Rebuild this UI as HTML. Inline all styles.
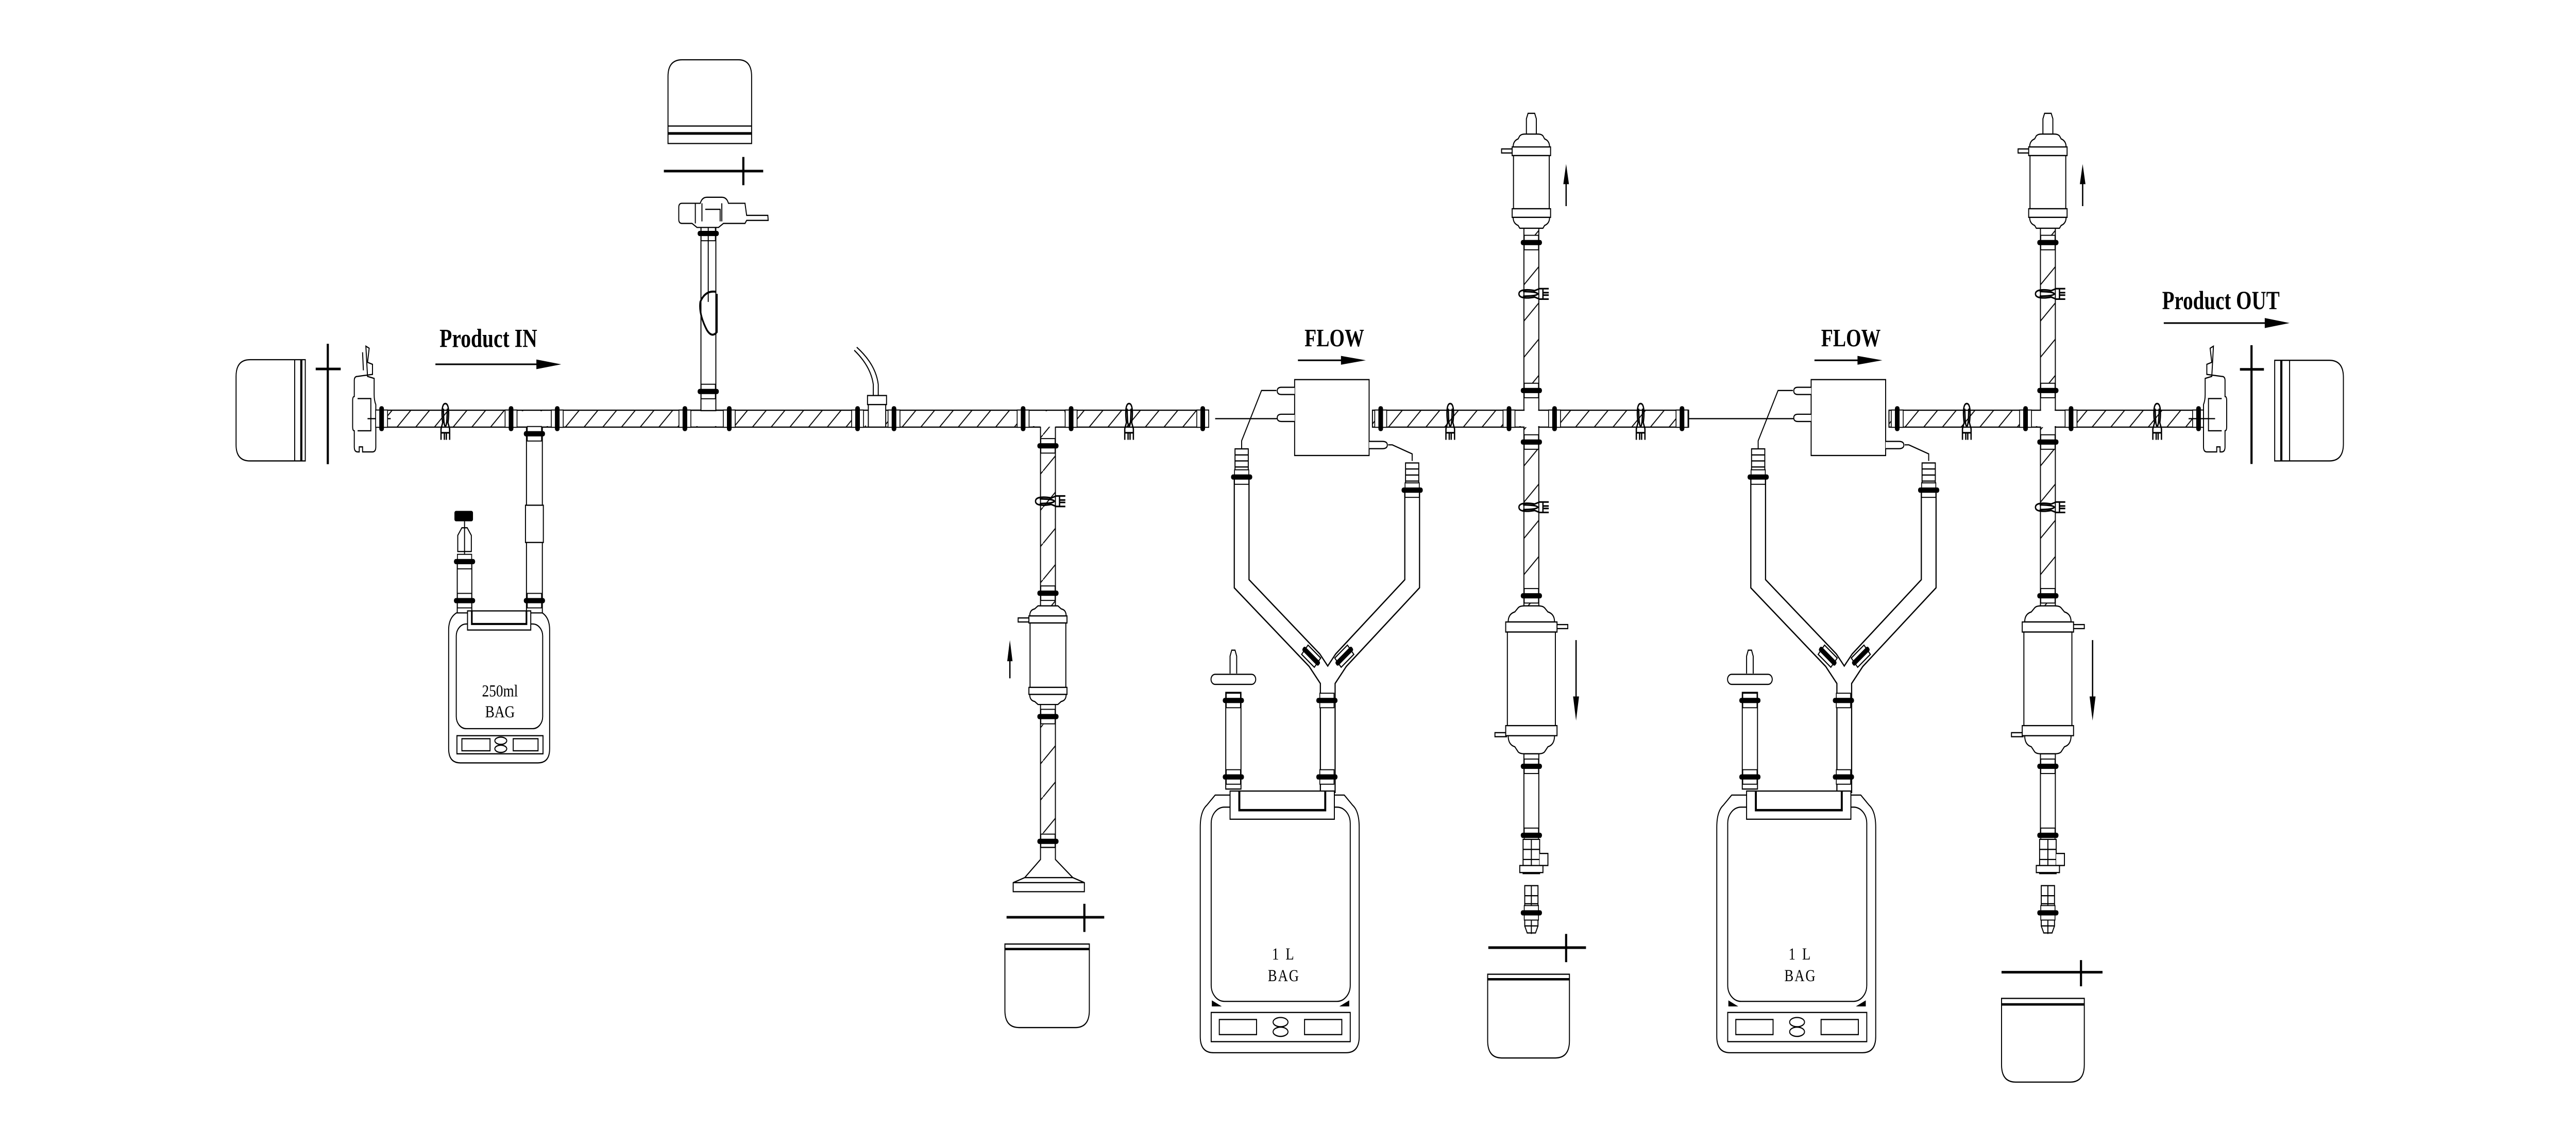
<!DOCTYPE html>
<html><head><meta charset="utf-8"><style>
html,body{margin:0;padding:0;background:#fff;width:6078px;height:2220px;overflow:hidden}
svg{display:block;position:fixed;left:0;top:0;width:100vw;height:100vh}
.s{fill:none;stroke:#000;stroke-width:.6}
.w{fill:#fff;stroke:#000;stroke-width:.6}
.t{font-family:"Liberation Serif",serif;fill:#000}
</style></head><body>
<svg viewBox="0 0 1556 568.35" preserveAspectRatio="none" xmlns="http://www.w3.org/2000/svg">
<defs>
<pattern id="hh" width="11.3" height="11.3" patternUnits="userSpaceOnUse"><path d="M-1,12.3 L12.3,-1" stroke="#000" stroke-width=".55"/></pattern>
<pattern id="hv" width="18" height="18" patternUnits="userSpaceOnUse"><path d="M-1,19 L19,-1" stroke="#000" stroke-width=".55"/></pattern>
<g id="bv"><rect x="-3.6" y="-4.3" width="7.2" height="8.6" fill="#fff" stroke="#000" stroke-width=".5"/><rect x="-1.4" y="-6.2" width="2.8" height="12.4" rx="1.2" fill="#000"/></g>
<g id="bh"><rect x="-4.3" y="-3.6" width="8.6" height="7.2" fill="#fff" stroke="#000" stroke-width=".5"/><rect x="-6.4" y="-1.3" width="12.8" height="2.6" rx="1.2" fill="#000"/></g>
<g id="pc" fill="none" stroke="#000" stroke-width=".8"><path d="M0,-7.5 C-2.4,-7.5 -2.2,-2 -1.6,2 L-2.6,5 V10.5 M0,-7.5 C2.4,-7.5 2.2,-2 1.6,2 L2.6,5 V10.5 M-1.2,-5 C-1,0 -1,3 0,4 C1,3 1,0 1.2,-5 M-2.6,7 H2.6 M-0.6,7 V10.5 M0.6,7 V10.5"/></g>
<g id="ph"><use href="#pc" transform="rotate(-90)"/></g>
<g id="sec">
 <rect x="782" y="188.6" width="45" height="37.7" class="w"/>
 <path d="M782,192.4 H774 Q771.5,192.4 771.5,194.2 Q771.5,196 774,196 H782 M782,205.8 H774 Q771.5,205.8 771.5,207.6 Q771.5,209.4 774,209.4 H782 M827,219.3 H835 Q838,219.3 838,221.1 Q838,222.9 835,222.9 H827" class="w"/>
 <path d="M771,194 H762 L750,219 V223 M838.5,221 H841 L853,225.5 V229" class="s"/>
 <rect x="829" y="203.8" width="191" height="8.4" fill="url(#hh)" stroke="#000" stroke-width=".6"/>
 <rect x="913.5" y="204.3" width="23" height="7.4" fill="#fff"/>
 <rect x="920.9" y="202.5" width="8.2" height="11" fill="#fff"/>
 <use href="#bv" x="834" y="208"/><use href="#bv" x="911.5" y="208"/><use href="#bv" x="939" y="208"/><use href="#bv" x="1016" y="208"/>
 <use href="#pc" x="876" y="208"/><use href="#pc" x="991" y="208"/>
 <path d="M750,238 V290 L794,328 L802,338 V394 M853,244 V290 L810,328 L802,338" fill="none" stroke="#000" stroke-width="9.6" stroke-linejoin="miter"/>
 <path d="M750,238 V290 L794,328 L802,338 V394 M853,244 V290 L810,328 L802,338" fill="none" stroke="#fff" stroke-width="8.2" stroke-linejoin="miter"/>
 <rect x="746" y="223" width="8" height="13" class="w"/><path d="M746,226 H754 M746,229 H754 M746,232 H754" class="s"/>
 <rect x="849" y="230" width="8" height="12" class="w"/><path d="M849,233 H857 M849,236 H857 M849,239 H857" class="s"/>
 <use href="#bh" x="750" y="237"/><use href="#bh" x="853" y="243.5"/>
 <g transform="translate(792,326) rotate(40)"><rect x="-5" y="-3" width="10" height="6" class="w"/><rect x="-6.4" y="-1.3" width="12.8" height="2.6" rx="1" fill="#000"/></g>
 <g transform="translate(812,326) rotate(-40)"><rect x="-5" y="-3" width="10" height="6" class="w"/><rect x="-6.4" y="-1.3" width="12.8" height="2.6" rx="1" fill="#000"/></g>
 <use href="#bh" x="801.5" y="348"/><use href="#bh" x="801.5" y="386"/>
 <path d="M743,334.6 V326 L744,323 H746 L747,326 V334.6" class="w"/>
 <rect x="731.5" y="335" width="27" height="5" rx="2.5" class="w"/>
 <rect x="740.4" y="344" width="9.2" height="48" class="w"/>
 <use href="#bh" x="745" y="348"/><use href="#bh" x="745" y="386"/>
 <path d="M734,395 H812 L817,400 Q821,403 821,411 V515 Q821,523 813,523 H733 Q725,523 725,515 V411 Q725,403 729,400 Z" class="w"/>
 <rect x="731.6" y="401" width="84" height="96.5" rx="8" class="w"/>
 <rect x="743" y="393" width="63" height="14" class="w"/>
 <path d="M748.6,393 V402.5 H800.5 V393" fill="none" stroke="#000" stroke-width="1.2"/>
 <rect x="731.6" y="503" width="84" height="14.5" class="w"/>
 <rect x="736.5" y="506.5" width="22.5" height="7.5" class="w"/><rect x="788" y="506.5" width="22.5" height="7.5" class="w"/>
 <ellipse cx="773.5" cy="507.8" rx="4.5" ry="2.3" class="w"/><ellipse cx="773.5" cy="512.6" rx="4.5" ry="2.3" class="w"/>
 <path d="M732,497 L738,500 H732 Z M815,497 L809,500 H815 Z" fill="#000"/>
 <rect x="920.5" y="113" width="9" height="90.8" fill="url(#hv)"/>
 <rect x="920.5" y="212.2" width="9" height="90" fill="url(#hv)"/>
 <path d="M920.5,113 V203.8 M929.5,113 V203.8 M920.5,212.2 V302 M929.5,212.2 V302" class="s"/>
 <use href="#bh" x="925" y="120.5"/><use href="#bh" x="925" y="194"/><use href="#bh" x="925" y="219.6"/><use href="#bh" x="925" y="296"/>
 <use href="#ph" x="925" y="146"/><use href="#ph" x="925" y="252"/>
 <path d="M922,67 V59 L923,56.3 H927 L928,59 V67" class="w"/>
 <rect x="907" y="74" width="7" height="2" class="w"/>
 <path d="M914,73 Q914,70 917,69 L918,67.5 Q919,66.6 921,66.6 H929 Q931,66.6 932,67.5 L933,69 Q936,70 936,73 Z" class="w" stroke-width=".9"/>
 <rect x="913.4" y="73" width="23.2" height="4.3" class="w" stroke-width="1"/>
 <rect x="914.2" y="77.3" width="21.6" height="26.4" class="w" stroke-width=".8"/>
 <rect x="913.4" y="103.7" width="23.2" height="4.3" class="w" stroke-width="1"/>
 <path d="M914,108 Q914,111 917,112 L918,113.4 H932 L933,112 Q936,111 936,108 Z" class="w" stroke-width=".9"/>
 <path d="M946,102.4 V90" stroke="#000" stroke-width=".8"/><path d="M944.3,91.5 L946,81.5 L947.7,91.5 Z" fill="#000"/>
 <rect x="940" y="310.3" width="7" height="2" class="w"/><rect x="903" y="364" width="7" height="2" class="w"/>
 <path d="M911,309 Q911,305 915,304 L917,302 Q918,301 921,301 H929 Q932,301 933,302 L935,304 Q939,305 939,309 Z" class="w" stroke-width=".9"/>
 <rect x="909.5" y="309" width="31" height="5" class="w" stroke-width="1"/>
 <rect x="910.5" y="314" width="29" height="46.5" class="w" stroke-width=".8"/>
 <rect x="909.5" y="360.5" width="31" height="5" class="w" stroke-width="1"/>
 <path d="M911,365.5 Q911,370 915,371 L917,373.5 Q918,374.5 921,374.5 H929 Q932,374.5 933,373.5 L935,371 Q939,370 939,365.5 Z" class="w" stroke-width=".9"/>
 <path d="M952,318 V348" stroke="#000" stroke-width=".8"/><path d="M950.2,346 L952,358 L953.8,346 Z" fill="#000"/>
 <rect x="920.5" y="374.5" width="9" height="40" class="w"/>
 <use href="#bh" x="925" y="380.7"/><use href="#bh" x="925" y="415"/>
 <rect x="920" y="417" width="10" height="17" class="w"/><path d="M920,422 H930 M920,427 H930 M925,417 V434" class="s"/>
 <path d="M930,424 H935 V430 H930" class="w"/><rect x="918" y="430" width="14" height="3.5" class="w"/>
 <rect x="921" y="440" width="8" height="20" class="w"/><path d="M921,445 H929 M921,449 H929 M925,440 V464" class="s"/>
 <use href="#bh" x="925" y="453.5"/>
 <path d="M921,460 L922.5,463.5 H927.5 L929,460" class="s"/>
</g>
</defs>

<path d="M184.4,178.7 H151 Q142.6,178.7 142.6,187 V221 Q142.6,229 151,229 H184.4 Z" class="w"/>
<path d="M178,178.7 V229" class="s"/><path d="M182,178.7 V229" stroke="#000" stroke-width="1.3"/>
<path d="M198,170.8 V230.6 M190.7,183.3 H205.8" stroke="#000" stroke-width="1.3"/>
<path d="M221,172 L223,173 L222,180 L225,181 V186 L216,187 Q214,187 214,189 V197 Q213,197 213,199 V212 Q213,214 214,214 V222 Q214,224.5 216,224.5 H217 V222 H219 V224.5 H225 Q227,224.5 227,222 V201 Q226,199 226,196 V188 L222,187 Z" class="w" stroke-width=".7"/>
<path d="M216,198 H224 V214 H216" class="s"/><path d="M219,175 L219.5,184" class="s"/>
<path d="M222,208 H236" class="s"/>

<rect x="227" y="203.8" width="503" height="8.4" fill="url(#hh)" stroke="#000" stroke-width=".6"/>
<rect x="312" y="204.3" width="21" height="7.4" fill="#fff"/><rect x="318.4" y="211" width="9" height="3" fill="#fff"/>
<path d="M312,212.2 H318.4 M327.4,212.2 H333" class="s"/>
<rect x="418" y="204.3" width="20" height="7.4" fill="#fff"/><rect x="423.4" y="202" width="9" height="3" fill="#fff"/>
<path d="M418,203.8 H423.4 M432.4,203.8 H438" class="s"/>
<rect x="623" y="204.3" width="20" height="7.4" fill="#fff"/><rect x="628.5" y="211" width="9" height="3" fill="#fff"/>
<path d="M623,212.2 H628.5 M637.5,212.2 H643" class="s"/>
<rect x="523" y="204.3" width="12" height="7.4" fill="#fff"/>
<use href="#bv" x="230.5" y="208"/><use href="#bv" x="308.7" y="208"/><use href="#bv" x="336.6" y="208"/>
<use href="#bv" x="413.7" y="208"/><use href="#bv" x="440.5" y="208"/><use href="#bv" x="518" y="208"/><use href="#bv" x="540" y="208"/>
<use href="#bv" x="618" y="208"/><use href="#bv" x="647" y="208"/><use href="#bv" x="726.5" y="208"/>
<use href="#pc" x="269" y="208"/><use href="#pc" x="682" y="208"/>
<rect x="524" y="196.5" width="11.5" height="4.5" class="w"/>
<rect x="524.5" y="201" width="10.5" height="11.2" class="w"/>
<path d="M527.5,196.5 V191 Q526,182 516,174 M530.5,196.5 V191 Q529,181 517.5,172.5" class="s"/>

<text x="265.5" y="172.4" class="t" font-size="13" font-weight="bold" textLength="59" lengthAdjust="spacingAndGlyphs">Product IN</text>
<path d="M263,181 H326" stroke="#000" stroke-width=".8"/><path d="M324,178.6 L339,181 L324,183.4 Z" fill="#000"/>

<path d="M318,212 V305 M327.6,212 V305" class="s"/>
<rect x="317.4" y="251" width="10.8" height="18.5" class="w"/>
<use href="#bh" x="322.8" y="215.5"/><use href="#bh" x="322.8" y="298.4"/>
<rect x="276.2" y="278" width="8.8" height="27" class="w"/>
<rect x="274.5" y="253.8" width="11.2" height="5.2" rx="1" fill="#000"/>
<path d="M280.6,259 V262 M276.5,274 V266 L279,262.2 H282.2 L284.7,266 V274 Z" class="w"/>
<path d="M280.6,262 V282" class="s"/>
<use href="#bh" x="280.6" y="279"/><use href="#bh" x="280.6" y="298.4"/>
<path d="M275.7,304.5 Q271,307 271,313 V372 Q271,379 278,379 H325 Q332,379 332,372 V313 Q332,307 327.6,304.5 Z" class="w"/>
<rect x="275.6" y="310" width="52.2" height="52" rx="6" class="w"/>
<rect x="282.4" y="303.5" width="38.2" height="9.5" class="w"/>
<path d="M285,303.5 V310 H318 V303.5" fill="none" stroke="#000" stroke-width="1"/>
<rect x="276" y="365.5" width="52" height="9" class="w"/>
<rect x="279" y="367" width="17" height="6" class="w"/><rect x="310" y="367" width="15" height="6" class="w"/>
<ellipse cx="302.5" cy="368" rx="3.6" ry="1.8" class="w"/><ellipse cx="302.5" cy="372" rx="3.6" ry="1.8" class="w"/>
<text x="302" y="346" class="t" font-size="8.5" text-anchor="middle">250ml</text>
<text x="302" y="356.4" class="t" font-size="8.5" text-anchor="middle">BAG</text>

<rect x="423.4" y="111" width="9" height="93" class="w"/>
<use href="#bh" x="427.8" y="116"/><use href="#bh" x="427.8" y="194.5"/>
<path d="M427.8,112 V150" class="s"/>
<path d="M432.6,145 Q426,144 423,150 Q422,156 427,164 Q430,168 433,165 V146" fill="none" stroke="#000" stroke-width="1"/>
<path d="M412,101 H423 Q424,98 427,98 H436 Q439,98 440,101 H450 L451,107 H463.8 L464,109.5 H451 L450,111 H437 L434,113 H421 L418,111 H412 Q410,111 410,109 V103 Q410,101 412,101 Z" class="w" stroke-width=".7"/>
<path d="M424,101 V110 M436,101 V110 M420,101 V111 M426,104 H435 V110" class="s"/>
<path d="M401,85 H461" stroke="#000" stroke-width="1.3"/><path d="M449,78 V92" stroke="#000" stroke-width="1.3"/>
<path d="M403.5,71.3 V38 Q403.5,29.7 412,29.7 H446 Q454,29.7 454,38 V71.3 Z" class="w"/>
<path d="M403.5,62.6 H454" class="s"/><path d="M403.5,66.3 H454" stroke="#000" stroke-width="1.3"/>

<rect x="628.5" y="212" width="9" height="90" fill="url(#hv)"/>
<rect x="628.5" y="346" width="9" height="75" fill="url(#hv)"/>
<path d="M628.5,212 V302 M637.5,212 V302 M628.5,346 V421 M637.5,346 V421" class="s"/>
<use href="#bh" x="633" y="221.5"/><use href="#bh" x="633" y="294.7"/><use href="#bh" x="633" y="356"/><use href="#bh" x="633" y="418"/>
<use href="#ph" x="633" y="249"/>
<rect x="615" y="307" width="7" height="2" class="w"/>
<path d="M622,306 Q622,303 625,302.5 L627,301 H639 L641,302.5 Q644,303 644,306 Z" class="w"/>
<rect x="621.5" y="306" width="23" height="3.5" class="w" stroke-width="1"/>
<rect x="622.2" y="309.5" width="21.6" height="32" class="w" stroke-width=".8"/>
<rect x="621.5" y="341.5" width="23" height="3.5" class="w" stroke-width="1"/>
<path d="M622,345 Q622,348 625,348.5 L627,350 H639 L641,348.5 Q644,348 644,345 Z" class="w"/>
<path d="M610,337 V327" stroke="#000" stroke-width=".8"/><path d="M608.4,328.5 L610,318 L611.6,328.5 Z" fill="#000"/>
<path d="M628.5,421 H637.5 V427 L648,436 L655,438.5 V443 H612 V438.5 L619,436 L628.5,427 Z" class="w"/>
<path d="M619,436 H648 M612,438.5 H655" class="s"/>
<path d="M608,455.7 H667" stroke="#000" stroke-width="1.3"/><path d="M655,449 V463" stroke="#000" stroke-width="1.3"/>
<path d="M607,469 H658 V502 Q658,510.5 649.5,510.5 H615.5 Q607,510.5 607,502 Z" class="w"/>
<path d="M607,471.5 H658" stroke="#000" stroke-width="1.2"/>

<path d="M734,208 H771.5 M1020,208 H1083.5" class="s"/>

<use href="#sec"/>
<use href="#sec" x="312"/>

<text x="788" y="172" class="t" font-size="12.5" font-weight="bold" textLength="36" lengthAdjust="spacingAndGlyphs">FLOW</text>
<path d="M784,179 H812" stroke="#000" stroke-width=".8"/><path d="M810,176.8 L825,179 L810,181.2 Z" fill="#000"/>
<text x="1100" y="172" class="t" font-size="12.5" font-weight="bold" textLength="36" lengthAdjust="spacingAndGlyphs">FLOW</text>
<path d="M1096,179 H1124" stroke="#000" stroke-width=".8"/><path d="M1122,176.8 L1137,179 L1122,181.2 Z" fill="#000"/>

<text x="775.5" y="476.7" class="t" font-size="8.3" text-anchor="middle" letter-spacing="1">1 L</text>
<text x="775.5" y="487.5" class="t" font-size="8.3" text-anchor="middle" letter-spacing=".6">BAG</text>
<text x="1087.5" y="476.7" class="t" font-size="8.3" text-anchor="middle" letter-spacing="1">1 L</text>
<text x="1087.5" y="487.5" class="t" font-size="8.3" text-anchor="middle" letter-spacing=".6">BAG</text>

<path d="M899,470.8 H958" stroke="#000" stroke-width="1.3"/><path d="M946,464 V478" stroke="#000" stroke-width="1.3"/>
<path d="M898.6,484 H948 V517 Q948,525.6 939.5,525.6 H907 Q898.6,525.6 898.6,517 Z" class="w"/>
<path d="M898.6,486.5 H948" stroke="#000" stroke-width="1.2"/>
<path d="M1209,483 H1270" stroke="#000" stroke-width="1.3"/><path d="M1257,477 V490" stroke="#000" stroke-width="1.3"/>
<path d="M1209,496 H1259 V529 Q1259,537.6 1250.5,537.6 H1217.5 Q1209,537.6 1209,529 Z" class="w"/>
<path d="M1209,499 H1259" stroke="#000" stroke-width="1.2"/>

<text x="1306" y="153.6" class="t" font-size="13" font-weight="bold" textLength="71" lengthAdjust="spacingAndGlyphs">Product OUT</text>
<path d="M1307,160.5 H1370" stroke="#000" stroke-width=".8"/><path d="M1368,158 L1383,160.5 L1368,163 Z" fill="#000"/>
<path d="M1337,172 L1335,173 L1336,180 L1333,181 V186 L1342,187 Q1344,187 1344,189 V197 Q1345,197 1345,199 V212 Q1345,214 1344,214 V222 Q1344,224.5 1342,224.5 H1341 V222 H1339 V224.5 H1333 Q1331,224.5 1331,222 V201 Q1332,199 1332,196 V188 L1336,187 Z" class="w" stroke-width=".7"/>
<path d="M1342,198 H1334 V214 H1342" class="s"/><path d="M1322,208 H1338" class="s"/>
<path d="M1360,171.5 V230.5 M1353,183.5 H1367.5" stroke="#000" stroke-width="1.3"/>
<path d="M1374,179 H1407 Q1415.5,179 1415.5,187.5 V220.5 Q1415.5,229 1407,229 H1374 Z" class="w"/>
<path d="M1378,179 V229" stroke="#000" stroke-width="1.3"/><path d="M1383,179 V229" class="s"/>
</svg>
</body></html>
